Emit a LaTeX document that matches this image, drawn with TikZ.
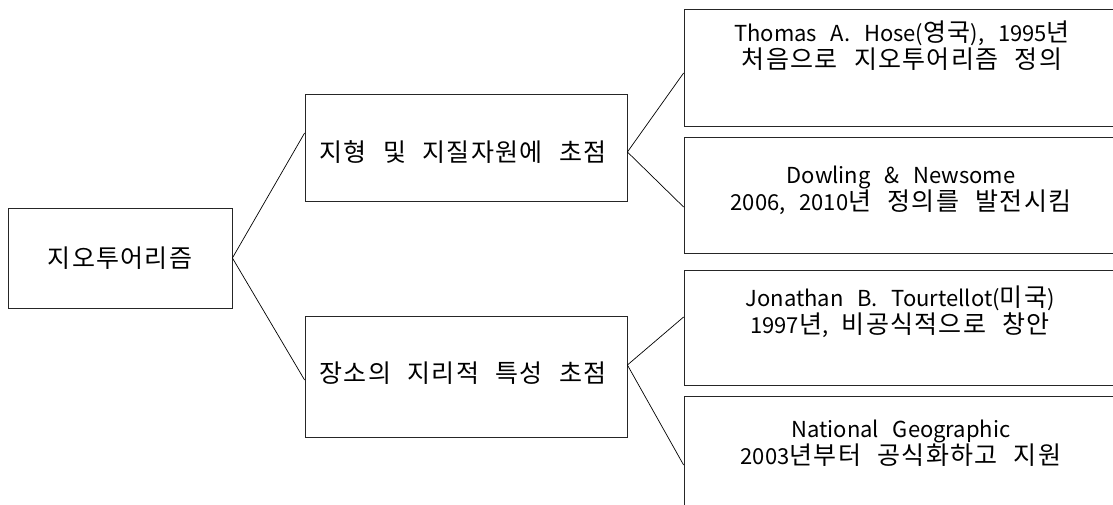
\documentclass[tikz,border=0pt]{standalone}
\usepackage{fontspec}
\newfontfamily\kr[WordSpace=2.8]{Noto Sans CJK KR}
\newfontfamily\krh[WordSpace=2.4,LetterSpace=5]{Noto Sans CJK KR}
\newcommand{\hg}[1]{{\fontsize{25}{27}\krh #1}}
\tikzset{
  x=1pt, y=-1pt,
  box/.style={draw=black!85, line width=0.8pt, rectangle, inner sep=0pt},
  txt/.style={font=\fontsize{22}{27}\kr, align=center, inner sep=0pt},
  link/.style={draw=black, line width=0.7pt}
}
\begin{document}
\begin{tikzpicture}
\clip (0,0) rectangle (1113,505);
\fill[white] (0,0) rectangle (1113,505);
% boxes
\node[box, minimum width=224pt, minimum height=100pt] (root) at (120,258) {};
\node[box, minimum width=322pt, minimum height=107pt] (mid1) at (466,147.5) {};
\node[box, minimum width=322pt, minimum height=121pt] (mid2) at (466,376.5) {};
\node[box, minimum width=432pt, minimum height=117pt] (r1) at (900,67.5) {};
\node[box, minimum width=432pt, minimum height=116pt] (r2) at (900,195) {};
\node[box, minimum width=432pt, minimum height=115pt] (r3) at (900,327.5) {};
\node[box, minimum width=432pt, minimum height=116pt] (r4) at (900,454) {};
% texts
\node[txt] (troot) at (120,258) {\hg{지오투어리즘}};
\node[txt] (tmid1) at (463,152) {\hg{지형 및 지질자원에 초점}};
\node[txt] (tmid2) at (463,373) {\hg{장소의 지리적 특성 초점}};
\node[txt] (tr1) at (902,46) {Thomas A. Hose(\hg{영국}), 1995\hg{년}\\\hg{처음으로 지오투어리즘 정의}};
\node[txt] (tr2) at (901,190) {Dowling \& Newsome\\2006, 2010\hg{년 정의를 발전시킴}};
\node[txt] (tr3) at (900,311.5) {Jonathan B. Tourtellot(\hg{미국})\\1997\hg{년}, \hg{비공식적으로 창안}};
\node[txt] (tr4) at (901,443) {National Geographic\\2003\hg{년부터 공식화하고 지원}};
% connectors
\draw[link] (root.east) -- ([yshift=14.5pt]mid1.west);
\draw[link] (root.east) -- ([yshift=-3.5pt]mid2.west);
\draw[link] ([yshift=-4.5pt]mid1.east) -- ([yshift=-5.5pt]r1.west);
\draw[link] ([yshift=-4.5pt]mid1.east) -- ([yshift=-12pt]r2.west);
\draw[link] ([yshift=11.5pt]mid2.east) -- ([yshift=10.5pt]r3.west);
\draw[link] ([yshift=11.5pt]mid2.east) -- ([yshift=-11pt]r4.west);
\end{tikzpicture}
\end{document}
